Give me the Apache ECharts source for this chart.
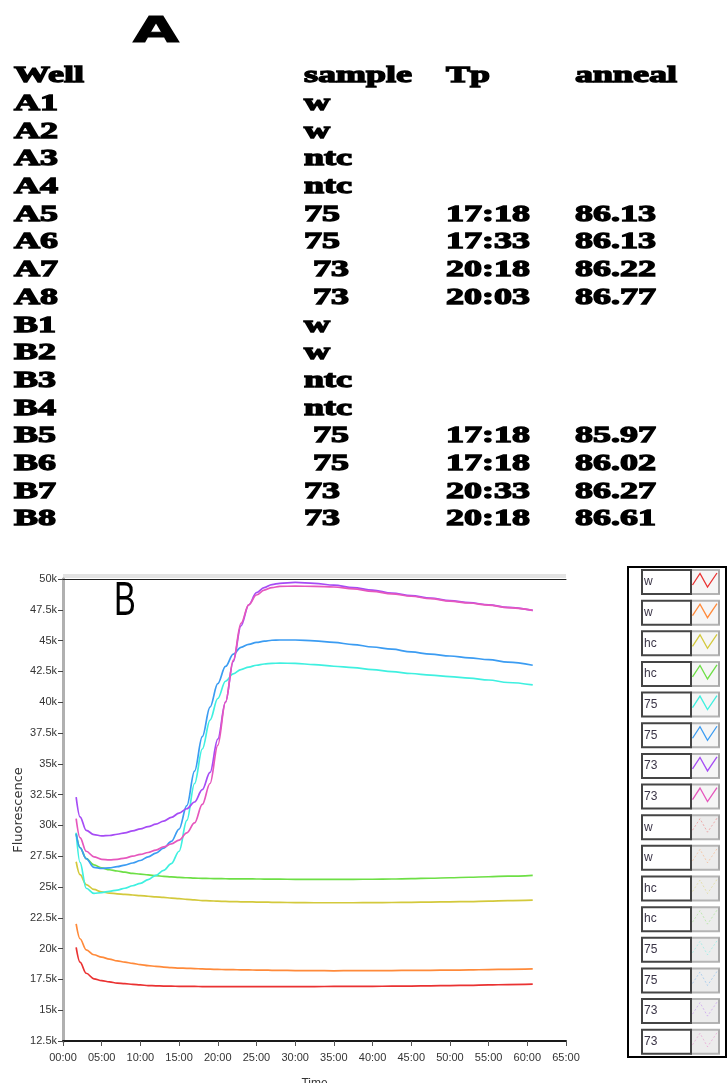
<!DOCTYPE html>
<html>
<head>
<meta charset="utf-8">
<title>Fluorescence</title>
<script src="https://cdn.jsdelivr.net/npm/echarts@6/dist/echarts.min.js"></script>
<style>
html, body { margin: 0; padding: 0; background: #fff; }
#main { width: 728px; height: 1083px; }
</style>
</head>
<body>
<div id="main"></div>
<script>
// ---- panel A table ----
var tableHead = ['Well', 'sample', 'Tp', 'anneal'];
var wells   = ['A1','A2','A3','A4','A5','A6','A7','A8','B1','B2','B3','B4','B5','B6','B7','B8'];
var samples = ['w','w','ntc','ntc','75','75',' 73',' 73','w','w','ntc','ntc',' 75',' 75','73','73'];
var tpTimes = ['','','','','17:18','17:33','20:18','20:03','','','','','17:18','17:18','20:33','20:18'];
var anneals = ['','','','','86.13','86.13','86.22','86.77','','','','','85.97','86.02','86.27','86.61'];

// ---- panel B curves (minutes, fluorescence) ----
var minutes = [1.7, 2.2, 3, 4, 5, 6, 7, 8, 9, 10, 11, 12, 13, 14, 15, 16, 17, 18, 19, 20,
  21, 22, 23, 24, 25, 26, 27, 28, 30, 32.5, 35, 37.5, 40, 42.5, 45, 47.5, 50, 52.5, 55, 57.5, 60.7];

var wRed = [20100, 18900, 18000, 17550, 17400, 17300, 17200, 17150, 17100, 17050, 17000, 16980, 16960, 16950, 16940, 16930, 16930, 16920, 16920, 16920,
  16920, 16920, 16920, 16920, 16920, 16920, 16920, 16920, 16920, 16920, 16930, 16930, 16940, 16950, 16960, 16980, 17000, 17020, 17050, 17080, 17110];
var wOrange = [22000, 20800, 19900, 19500, 19300, 19150, 19000, 18900, 18800, 18700, 18620, 18560, 18500, 18450, 18420, 18400, 18380, 18350, 18330, 18310,
  18300, 18290, 18280, 18270, 18260, 18250, 18240, 18230, 18220, 18210, 18200, 18210, 18220, 18220, 18230, 18240, 18250, 18270, 18300, 18320, 18350];
var hcYellow = [27050, 26000, 25200, 24800, 24600, 24500, 24450, 24400, 24350, 24300, 24250, 24200, 24150, 24100, 24050, 24000, 23950, 23900, 23880, 23850,
  23830, 23810, 23800, 23790, 23780, 23770, 23760, 23750, 23730, 23720, 23720, 23720, 23730, 23740, 23760, 23780, 23800, 23820, 23850, 23890, 23930];
var hcGreen = [29350, 28200, 27300, 26800, 26550, 26400, 26300, 26200, 26100, 26050, 25980, 25920, 25870, 25820, 25780, 25750, 25720, 25700, 25690, 25680,
  25670, 25665, 25660, 25655, 25650, 25645, 25640, 25635, 25625, 25620, 25620, 25625, 25630, 25650, 25680, 25710, 25750, 25790, 25830, 25880, 25950];
var s75Cyan = [29400, 27000, 24900, 24480, 24550, 24650, 24750, 24900, 25100, 25300, 25600, 25950, 26350, 26900, 27900, 30400, 33400, 36200, 38550, 40300,
  41700, 42300, 42650, 42850, 43000, 43100, 43150, 43170, 43150, 43050, 42920, 42800, 42650, 42480, 42330, 42200, 42080, 41950, 41800, 41600, 41400];
var s75Blue = [29300, 28200, 27300, 26600, 26500, 26550, 26650, 26780, 26950, 27150, 27450, 27750, 28150, 28700, 29700, 31600, 34400, 37200, 39600, 41500,
  42900, 43900, 44450, 44700, 44850, 44950, 45030, 45050, 45050, 44980, 44850, 44680, 44480, 44300, 44080, 43900, 43750, 43600, 43450, 43250, 43000];
var s73Purple = [32300, 30700, 29600, 29250, 29150, 29180, 29280, 29400, 29550, 29720, 29900, 30100, 30350, 30650, 31000, 31350, 31900, 32900, 34300, 37000,
  40000, 43300, 46200, 47900, 48900, 49300, 49550, 49650, 49720, 49650, 49500, 49300, 49100, 48850, 48650, 48450, 48250, 48080, 47900, 47700, 47450];
var s73Pink = [30550, 29000, 27900, 27450, 27250, 27200, 27250, 27350, 27500, 27650, 27800, 28000, 28250, 28500, 28800, 29400, 30200, 31700, 33400, 36500,
  40000, 43400, 46400, 47900, 48700, 49100, 49300, 49400, 49420, 49400, 49350, 49200, 49000, 48800, 48600, 48400, 48200, 48050, 47880, 47680, 47450];

var curveNames  = ['w', 'w', 'hc', 'hc', '75', '75', '73', '73'];
var curveValues = [wRed, wOrange, hcYellow, hcGreen, s75Cyan, s75Blue, s73Purple, s73Pink];
var curveColors = ['#ea3232', '#ff8a3a', '#d3c93c', '#6ddf45', '#3ff0e0', '#3b9cf2', '#a64cf5', '#e657bd'];
var legendLabels = curveNames.concat(curveNames);

function pad(n) { return (n < 10 ? '0' : '') + n; }

var graphics = [];

// panel A
graphics.push({
  type: 'text', x: 133, y: 33, scaleX: 1.65, silent: true,
  style: { text: 'A', font: 'bold 36px "DejaVu Sans"', fill: '#000', stroke: '#000', lineWidth: 1,
    verticalAlign: 'middle', textVerticalAlign: 'middle' }
});
var colX = [14, 304, 446, 575];
function cell(str, col, y) {
  if (!str) return;
  graphics.push({
    type: 'text', x: colX[col], y: y, scaleX: 1.5, silent: true,
    style: { text: str, font: 'bold 24px "Liberation Serif"', fill: '#000', stroke: '#000', lineWidth: 1.3,
      verticalAlign: 'middle', textVerticalAlign: 'middle' }
  });
}
tableHead.forEach(function (h, c) { cell(h, c, 76); });
wells.forEach(function (w, i) {
  var y = 76 + (i + 1) * 27.7;
  cell(w, 0, y);
  cell(samples[i], 1, y);
  cell(tpTimes[i], 2, y);
  cell(anneals[i], 3, y);
});

// panel B label and frame strip
graphics.push({
  type: 'rect', silent: true, shape: { x: 63, y: 574, width: 503, height: 4 }, style: { fill: '#e3e3e3' }
});
graphics.push({
  type: 'text', x: 114, y: 602, scaleX: 0.68, silent: true,
  style: { text: 'B', font: '48px "Liberation Sans"', fill: '#000', verticalAlign: 'middle', textVerticalAlign: 'middle' }
});

// plot legend box
graphics.push({
  type: 'rect', silent: true, shape: { x: 628, y: 567, width: 98, height: 490 },
  style: { fill: '#fff', stroke: '#000', lineWidth: 2 }
});
legendLabels.forEach(function (lab, i) {
  var top = 570 + i * 30.65;
  var active = i < 8;
  var color = curveColors[i % 8];
  graphics.push({
    type: 'rect', silent: true, shape: { x: 691, y: top, width: 28, height: 24 },
    style: { fill: active ? '#f6f6f6' : '#ececec', stroke: '#b4b4b4', lineWidth: 2 }
  });
  graphics.push({
    type: 'rect', silent: true, shape: { x: 718, y: top, width: 2, height: 24 },
    style: { fill: '#a8a8a8' }
  });
  graphics.push({
    type: 'rect', silent: true, shape: { x: 642, y: top, width: 49, height: 24 },
    style: { fill: '#fff', stroke: '#444', lineWidth: 2 }
  });
  graphics.push({
    type: 'text', x: 644, y: top + 12, silent: true,
    style: { text: lab, font: '12px "Liberation Sans"', fill: '#3a3446', verticalAlign: 'middle', textVerticalAlign: 'middle' }
  });
  graphics.push({
    type: 'polyline', silent: true,
    shape: { points: [[692.5, top + 15], [700, top + 3.5], [707.5, top + 17], [717, top + 3]] },
    style: { stroke: color, lineWidth: active ? 1.3 : 1, opacity: active ? 1 : 0.35, lineDash: active ? null : [2, 2], fill: null }
  });
});

var series = curveValues.map(function (vals, k) {
  return {
    name: curveNames[k] + k,
    type: 'line',
    data: minutes.map(function (t, i) { return [t, vals[i]]; }),
    showSymbol: false,
    smooth: 0.35,
    smoothMonotone: 'x',
    lineStyle: { color: curveColors[k], width: 1.7 },
    itemStyle: { color: curveColors[k] },
    xAxisIndex: 0,
    yAxisIndex: 0
  };
});

var chart = echarts.init(document.getElementById('main'));
chart.setOption({
  animation: false,
  backgroundColor: '#fff',
  grid: { left: 63, right: 162, top: 579, bottom: 42, containLabel: false, outerBoundsMode: 'none' },
  xAxis: [{
    type: 'value', min: 0, max: 65, interval: 5, position: 'bottom',
    axisLine: { show: true, onZero: false, lineStyle: { color: '#1a1a1a', width: 2 } },
    axisTick: { show: true, length: 5, lineStyle: { color: '#555' } },
    axisLabel: { color: '#333', fontSize: 11, fontFamily: 'Liberation Sans', margin: 11,
      formatter: function (v) { return pad(v) + ':00'; } },
    splitLine: { show: false },
    name: 'Time', nameLocation: 'middle', nameGap: 37,
    nameTextStyle: { color: '#333', fontSize: 12, fontFamily: 'Liberation Sans' }
  }, {
    type: 'value', min: 0, max: 65, position: 'top',
    axisLine: { show: true, lineStyle: { color: '#222', width: 1 } },
    axisTick: { show: false }, axisLabel: { show: false }, splitLine: { show: false }
  }],
  yAxis: [{
    type: 'value', min: 12500, max: 50000, interval: 2500,
    axisLine: { show: true, onZero: false, lineStyle: { color: '#a3a3a3', width: 3 } },
    axisTick: { show: true, length: 5, lineStyle: { color: '#444' } },
    axisLabel: { color: '#333', fontSize: 11, fontFamily: 'Liberation Sans', margin: 6,
      formatter: function (v) { return (v / 1000) + 'k'; } },
    splitLine: { show: false },
    name: 'Fluorescence', nameLocation: 'middle', nameGap: 38, nameRotate: 90, nameMoveOverlap: false,
    nameTextStyle: { color: '#333', fontSize: 13, fontFamily: 'DejaVu Sans' }
  }, {
    type: 'value', min: 12500, max: 50000, position: 'right',
    axisLine: { show: true, lineStyle: { color: '#b0b0b0', width: 3 } },
    axisTick: { show: false }, axisLabel: { show: false }, splitLine: { show: false }
  }],
  series: series,
  graphic: graphics
});
</script>
</body>
</html>
